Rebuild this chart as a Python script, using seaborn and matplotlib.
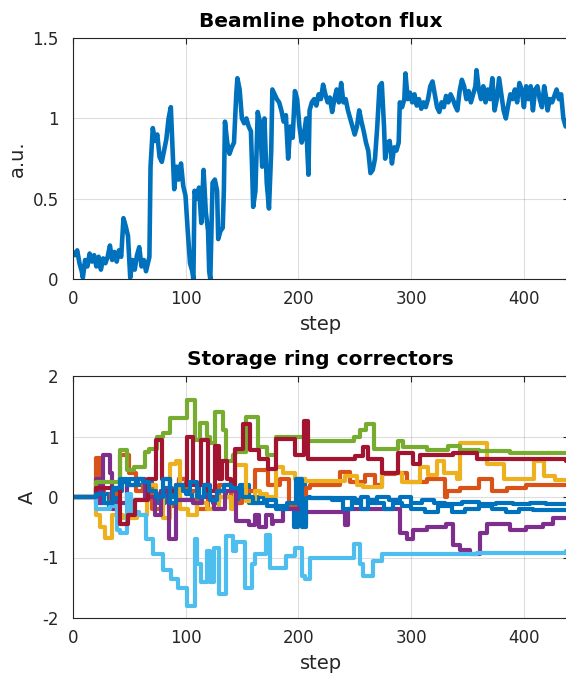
import numpy as np
import pandas as pd
import matplotlib
matplotlib.use("Agg")
import matplotlib.pyplot as plt
import seaborn as sns

sns.set_theme(style="white")
plt.rcParams['font.family'] = ['DejaVu Sans']

# ---------------- data ----------------
flux_step = [0, 2, 4, 6, 8, 9, 11, 13, 15, 17, 19, 21, 23, 25, 27, 29, 31, 33, 35, 37, 39, 41, 43, 45, 47, 49,
             51, 53, 55, 57, 59, 61, 63, 65, 67, 68, 69, 71, 73, 75, 77, 79, 81, 83, 85, 87, 88, 90, 92, 94,
             96, 98, 100, 102, 104, 106, 107, 108, 110, 112, 114, 116, 118, 120, 121, 122, 124, 126, 128, 129,
             131, 133, 134, 135, 137, 139, 141, 143, 145, 146, 148, 150, 152, 154, 156, 158, 159, 160, 162, 164,
             166, 168, 170, 172, 174, 176, 177, 179, 181, 183, 185, 187, 189, 191, 193, 195, 197, 199, 201, 203,
             205, 207, 208, 209, 210, 212, 214, 216, 218, 220, 222, 224, 226, 228, 230, 232, 234, 236, 238, 240,
             242, 244, 246, 248, 250, 252, 254, 256, 258, 260, 262, 264, 266, 268, 270, 272, 274, 276, 277, 279,
             281, 283, 285, 287, 289, 290, 292, 294, 295, 297, 299, 301, 303, 305, 307, 309, 311, 313, 315, 317,
             319, 321, 323, 325, 327, 329, 331, 333, 335, 337, 339, 341, 343, 345, 347, 349, 351, 353, 355, 357,
             358, 360, 362, 364, 366, 368, 370, 372, 374, 376, 378, 380, 382, 384, 386, 388, 390, 392, 394, 396,
             398, 400, 402, 404, 406, 408, 410, 412, 414, 416, 418, 420, 421, 423, 425, 427, 429, 431, 433, 435, 437]
flux_val = [0.17, 0.15, 0.18, 0.10, 0.05, 0.01, 0.12, 0.08, 0.16, 0.11, 0.15, 0.08, 0.14, 0.06, 0.13, 0.10, 0.14, 0.21, 0.12, 0.17, 0.11, 0.18, 0.14, 0.38, 0.33, 0.27,
            0.01, 0.12, 0.06, 0.15, 0.20, 0.08, 0.12, 0.05, 0.11, 0.14, 0.70, 0.94, 0.86, 0.90, 0.76, 0.73, 0.80, 0.87, 1.00, 1.07, 0.90, 0.56, 0.70, 0.62,
            0.72, 0.58, 0.52, 0.30, 0.10, 0.05, 0.00, 0.55, 0.50, 0.57, 0.35, 0.68, 0.42, 0.30, 0.05, 0.00, 0.60, 0.62, 0.55, 0.25,
            0.30, 0.32, 0.55, 0.98, 0.85, 0.78, 0.82, 0.85, 1.15, 1.25, 1.18, 1.00, 0.97, 1.00, 0.95, 0.92, 0.70, 0.45, 0.55, 1.04,
            0.98, 0.70, 1.00, 0.60, 0.44, 0.80, 1.18, 1.15, 1.12, 1.10, 1.05, 0.98, 1.02, 0.75, 0.95, 0.88, 1.17, 1.12, 0.95, 0.85,
            0.90, 1.00, 0.80, 0.65, 1.05, 1.10, 1.12, 1.08, 1.15, 1.12, 1.21, 1.15, 1.10, 1.13, 1.04, 1.12, 1.18, 1.10, 1.22, 1.10,
            1.12, 1.05, 1.00, 0.95, 0.90, 0.95, 1.05, 0.98, 0.92, 0.85, 0.80, 0.66, 0.68, 0.75, 0.95, 1.20, 1.22, 0.95, 0.75, 0.85,
            0.86, 0.72, 0.82, 0.80, 0.85, 1.10, 1.07, 1.12, 1.28, 1.12, 1.16, 1.10, 1.15, 1.08, 1.12, 1.06, 1.10, 1.07, 1.12, 1.20,
            1.23, 1.15, 1.07, 1.04, 1.10, 1.07, 1.14, 1.10, 1.15, 1.12, 1.08, 1.05, 1.17, 1.24, 1.20, 1.12, 1.17, 1.10, 1.15, 1.20,
            1.30, 1.18, 1.12, 1.20, 1.10, 1.18, 1.12, 1.25, 1.05, 1.12, 1.25, 1.15, 1.05, 1.00, 1.08, 1.15, 1.12, 1.18, 1.10, 1.22,
            1.18, 1.07, 1.20, 1.12, 1.20, 1.05, 1.18, 1.20, 1.12, 1.07, 1.20, 1.12, 1.05, 1.12, 1.10, 1.14, 1.18, 1.12, 1.15, 1.00, 0.95]

# corrector currents (step-wise), change points and values
c1_step = [0, 21, 26, 32, 38, 44, 50, 58, 64, 70, 76, 82, 88, 94, 100, 106, 112, 118, 124, 130, 136, 142, 148, 156,
           164, 172, 180, 190, 196, 200, 206, 210, 250, 256, 262, 270, 280, 290, 300, 310, 320, 330, 345, 360, 375,
           390, 405, 420, 437]
c1_val = [0, -0.1, 0.05, -0.15, 0.1, 0.25, 0.3, 0.2, 0.25, 0.05, -0.1, 0.15, 0.0, 0.3, 0.05, -0.05, 0.2, 0.0, -0.1,
          0.1, 0.0, -0.05, 0.2, -0.1, 0.0, -0.15, -0.15, -0.15, -0.5, 0.3, 0.0, -0.02, -0.1, 0.0, -0.1, 0.0, -0.05,
          0.0, -0.1, -0.05, -0.1, -0.12, -0.08, -0.12, -0.1, -0.12, -0.1, -0.12, -0.12]
c2_step = [0, 21, 24, 28, 34, 42, 50, 56, 62, 70, 78, 86, 94, 100, 110, 120, 130, 140, 150, 162, 173, 184, 192, 197,
           203, 207, 210, 237, 246, 259, 268, 274, 286, 296, 314, 330, 332, 343, 360, 372, 385, 402, 437]
c2_val = [0, 0.65, 0.1, -0.1, 0.05, 0.7, 0.4, 0.1, 0.2, -0.2, 0.1, -0.15, 0.3, 0.1, -0.2, 0.0, 0.2, -0.1, 0.1, 0.45,
          0.2, 0.3, -0.15, -0.2, -0.45, 0.15, 0.2, 0.41, 0.25, 0.37, 0.2, 0.38, 0.4, 0.25, 0.3, 0.0, 0.1, 0.15, 0.3,
          0.1, 0.15, 0.2, 0.2]
c3_step = [0, 21, 24, 29, 35, 45, 57, 66, 74, 80, 86, 92, 95, 102, 110, 113, 119, 122, 130, 140, 144, 154, 162, 166,
           172, 180, 186, 197, 206, 241, 252, 257, 274, 292, 308, 315, 323, 329, 341, 343, 367, 382, 409, 418, 428, 437]
c3_val = [0, -0.3, -0.5, -0.68, -0.3, -0.35, -0.3, 0.2, 0.0, -0.35, 0.55, 0.6, -0.2, -0.3, -0.1, -0.1, -0.2, -0.2,
          0.0, -0.2, 0.53, -0.07, 0.1, 0.05, 0.0, 0.5, 0.4, 0.3, 0.26, 0.35, 0.2, 0.17, 0.4, 0.25, 0.5, 0.36, 0.6,
          0.4, 0.3, 0.89, 0.55, 0.29, 0.6, 0.35, 0.28, 0.28]
c4_step = [0, 21, 24, 27, 33, 35, 38, 48, 56, 64, 73, 78, 85, 92, 107, 115, 125, 135, 145, 156, 162, 165, 171, 177,
           178, 186, 206, 241, 244, 290, 296, 302, 314, 331, 337, 343, 352, 361, 367, 388, 402, 417, 426, 437]
c4_val = [0, 0.3, -0.1, 0.7, 0.4, -0.2, -0.1, 0.2, 0.3, 0.0, -0.3, 0.1, -0.7, -0.05, -0.1, 0.0, -0.2, 0.1, -0.4,
          -0.46, -0.3, -0.5, -0.3, -0.45, -0.4, -0.2, -0.25, -0.46, -0.2, -0.6, -0.7, -0.55, -0.5, -0.45, -0.8, -0.87,
          -0.95, -0.6, -0.45, -0.55, -0.5, -0.45, -0.35, -0.35]
c5_step = [0, 21, 42, 48, 54, 64, 68, 75, 80, 86, 101, 108, 113, 119, 122, 126, 133, 136, 142, 144, 154, 164, 172,
           180, 207, 249, 255, 260, 267, 288, 293, 314, 333, 343, 360, 388, 437]
c5_val = [0, 0.25, 0.78, 0.45, 0.5, 0.75, 0.8, 1.0, 1.05, 1.3, 1.6, 0.95, 1.22, 1.0, 0.9, 1.4, 1.1, 0.6, 0.7, 0.75,
          1.33, 0.83, 0.7, 1.0, 0.92, 1.0, 1.1, 1.2, 0.8, 0.93, 0.82, 0.78, 0.85, 0.78, 0.76, 0.73, 0.73]
c6_step = [0, 21, 33, 39, 42, 48, 52, 59, 65, 71, 80, 87, 93, 101, 108, 110, 114, 119, 122, 125, 130, 136, 142, 145,
           153, 159, 162, 171, 175, 189, 197, 203, 206, 210, 249, 255, 257, 266, 274, 299, 358, 437]
c6_val = [0, -0.2, -0.15, -0.55, -0.6, 0.05, -0.25, -0.3, -0.7, -0.95, -1.2, -1.35, -1.5, -1.8, -0.7, -1.1, -1.4,
          -0.9, -1.4, -0.85, -1.6, -0.65, -0.9, -0.75, -1.5, -1.1, -0.95, -0.62, -1.18, -0.98, -0.85, -1.3, -1.35,
          -1.0, -0.78, -1.1, -1.3, -1.05, -0.95, -0.95, -0.92, -0.9]
c7_step = [0, 21, 33, 42, 49, 55, 67, 74, 79, 86, 92, 101, 107, 114, 120, 126, 130, 132, 137, 140, 144, 151, 157,
           165, 173, 180, 197, 205, 209, 250, 257, 262, 274, 288, 302, 308, 337, 358, 437]
c7_val = [0, 0.15, 0.15, -0.45, -0.3, -0.05, 0.3, 0.95, 0.3, 0.1, 0.2, 1.0, 0.2, 0.95, 0.1, 0.85, 0.3, 0.6, 0.3, 0.2,
          0.8, 1.2, 0.78, 0.63, 0.47, 0.96, 0.7, 1.26, 0.63, 0.68, 0.82, 0.63, 0.39, 0.72, 0.55, 0.7, 0.73, 0.63, 0.6]
c8_step = [0, 21, 28, 36, 42, 48, 56, 62, 68, 74, 80, 86, 92, 98, 104, 110, 116, 122, 128, 134, 140, 150, 160, 170,
           180, 190, 198, 203, 207, 230, 240, 248, 256, 262, 268, 276, 284, 292, 300, 312, 324, 336, 348, 360, 372,
           384, 396, 408, 420, 437]
c8_val = [0, 0.05, -0.1, 0.15, 0.3, 0.2, 0.3, 0.25, 0.1, 0.0, 0.3, -0.1, 0.2, 0.1, 0.25, 0.0, 0.2, -0.05, 0.1, 0.2,
          0.15, 0.0, -0.1, -0.05, -0.2, -0.1, 0.3, -0.5, -0.02, -0.05, -0.2, -0.05, -0.2, -0.05, -0.1, -0.2, -0.1,
          -0.15, -0.2, -0.25, -0.15, -0.25, -0.2, -0.15, -0.2, -0.25, -0.2, -0.22, -0.22, -0.22]

corrector_steps = [c1_step, c2_step, c3_step, c4_step, c5_step, c6_step, c7_step, c8_step]
corrector_vals = [c1_val, c2_val, c3_val, c4_val, c5_val, c6_val, c7_val, c8_val]
corrector_colors = ["#0072BD", "#D95319", "#EDB120", "#7E2F8E", "#77AC30", "#4DBEEE", "#A2142F", "#0072BD"]

x_ticks = [0, 100, 200, 300, 400]
x_ticklabels = ["0", "100", "200", "300", "400"]
y1_ticks = [0, 0.5, 1, 1.5]
y1_ticklabels = ["0", "0.5", "1", "1.5"]
y2_ticks = [-2, -1, 0, 1, 2]
y2_ticklabels = ["-2", "-1", "0", "1", "2"]

# ---------------- figure ----------------
W, H = 566, 677
fig = plt.figure(figsize=(W / 100, H / 100), dpi=100)
fig.patch.set_facecolor("white")

px_per_step = 1.128
x0 = 72.7
xmax = 440
ax_w = xmax * px_per_step / W
ax1 = fig.add_axes([x0 / W, 1 - 279.3 / H, ax_w, (279.3 - 38) / H])
ax2 = fig.add_axes([x0 / W, 1 - 618 / H, ax_w, (618 - 376) / H])

TXT = "#262626"

df_flux = pd.DataFrame({"step": flux_step, "flux": flux_val})
sns.lineplot(data=df_flux, x="step", y="flux", ax=ax1, color="#0072BD", lw=3.3,
             estimator=None, sort=False, solid_joinstyle="round", solid_capstyle="round")

for st, vl, col in zip(corrector_steps, corrector_vals, corrector_colors):
    d = pd.DataFrame({"step": st, "A": vl})
    sns.lineplot(data=d, x="step", y="A", ax=ax2, color=col, lw=3.0, estimator=None, sort=False,
                 drawstyle="steps-post", solid_joinstyle="round", solid_capstyle="round")


def style(ax, yt, ytl, ylim, ylabel, title):
    ax.set_xlim(0, xmax)
    ax.set_ylim(*ylim)
    ax.set_xticks(x_ticks)
    ax.set_xticklabels(x_ticklabels)
    ax.set_yticks(yt)
    ax.set_yticklabels(ytl)
    ax.grid(True, color="#262626", alpha=0.15, lw=0.8)
    ax.set_axisbelow(True)
    for s in ax.spines.values():
        s.set_color(TXT)
        s.set_linewidth(0.8)
    ax.tick_params(direction="in", length=4, width=0.8, colors=TXT, labelsize=12,
                   top=True, right=True)
    ax.tick_params(axis="x", pad=8)
    ax.tick_params(axis="y", pad=10)
    ax.set_xlabel("step", fontsize=14, color=TXT, labelpad=5)
    ax.set_ylabel(ylabel, fontsize=14, color=TXT, labelpad=4)
    ax.set_title(title, fontsize=14.5, fontweight="bold", color="black", pad=8)
    ax.set_facecolor("white")


style(ax1, y1_ticks, y1_ticklabels, (0, 1.5), "a.u.", "Beamline photon flux")
style(ax2, y2_ticks, y2_ticklabels, (-2, 2), "A", "Storage ring correctors")

fig.savefig("out.png", dpi=100)
